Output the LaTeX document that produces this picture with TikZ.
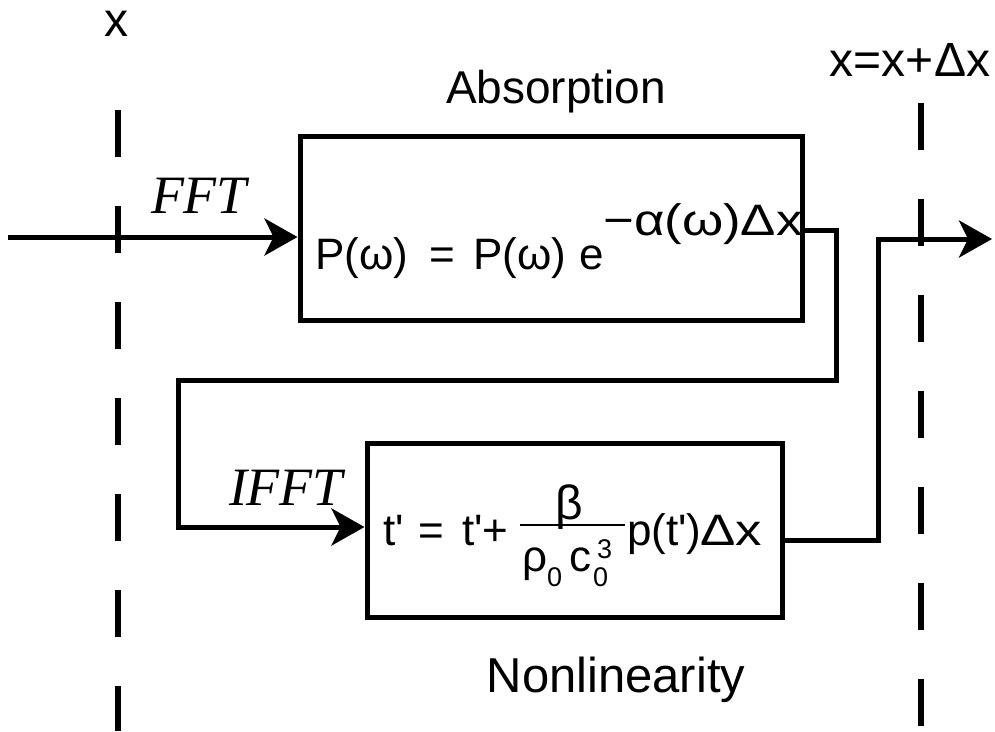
\documentclass[tikz,border=0pt]{standalone}
\usepackage{fontspec}
\setmainfont{Liberation Sans}
\newfontfamily\timesfam{Liberation Serif}
\newfontfamily\widefam[FakeStretch=1.2]{Liberation Sans}
\usetikzlibrary{arrows.meta}
\newcommand\sq{\textquotesingle}
\begin{document}
\begin{tikzpicture}[x=1pt,y=-1pt,
  box/.style={draw, line width=5pt, rectangle, inner sep=0pt},
  txt/.style={inner sep=0pt, anchor=base},
  lbl/.style={txt, font=\fontsize{46}{50}\selectfont},
  eq/.style={inner sep=0pt, anchor=base west, font=\fontsize{44}{50}\selectfont},
  weq/.style={inner sep=0pt, anchor=base west, font=\fontsize{44}{50}\selectfont\widefam},
  sub/.style={inner sep=0pt, anchor=base west, font=\fontsize{27}{30}\selectfont},
  op/.style={txt, font=\fontsize{54}{58}\selectfont\timesfam\itshape},
  conn/.style={line width=5pt},
  arr/.style={line width=5pt, -{Stealth[length=33pt,width=37pt,inset=9pt]}},
  dashv/.style={line width=6pt, dash pattern=on 47pt off 49pt}
]
\useasboundingbox (0,0) rectangle (995,731);

% dashed planes
\coordinate (d1a) at (118,110); \coordinate (d1b) at (118,731);
\coordinate (d2a) at (921,103); \coordinate (d2b) at (921,731);
\draw[dashv] (d1a) -- (d1b);
\draw[dashv] (d2a) -- (d2b);

% labels
\node[txt, font=\fontsize{48}{52}\selectfont] (lx) at (116,36) {x};
\node[txt, font=\fontsize{48}{52}\selectfont] (lxx) at (910,76) {x=x+Δx};
\node[lbl] (labs) at (556,103) {Absorption};
\node[txt, font=\fontsize{49}{53}\selectfont] (lnon) at (616,692) {Nonlinearity};
\node[op] (fft) at (199,213) {FFT};
\node[op] (ifft) at (286,505) {IFFT};

% boxes
\node[box, minimum width=502pt, minimum height=184pt] (b1) at (551,228) {};
\node[box, minimum width=415pt, minimum height=174pt] (b2) at (574.5,530) {};

% equation 1
\node[eq] (e1a) at (315,269) {P(ω)};
\node[eq] (e1b) at (429,269) {=};
\node[eq] (e1c) at (473,269) {P(ω)};
\node[eq] (e1d) at (579,269) {e};
\node[weq] (e1e) at (603,235) {−α(ω)Δx};

% equation 2
\node[eq] (e2a) at (383,545) {t\sq};
\node[eq] (e2b) at (418,545) {=};
\node[eq] (e2c) at (462,545) {t\sq+};
\node[txt, font=\fontsize{48}{52}\selectfont] (e2n) at (569,519) {β};
\coordinate (fb1) at (520,525); \coordinate (fb2) at (625,525);
\draw[line width=2.5pt] (fb1) -- (fb2);
\node[eq] (e2r) at (522,571) {ρ};
\node[sub] (e2r0) at (547,586) {0};
\node[eq] (e2cc) at (569,571) {c};
\node[sub] (e2c0) at (593,586) {0};
\node[sub] (e2c3) at (597,558) {3};
\node[eq] (e2p) at (627,545) {p(t\sq)};
\node[weq] (e2d) at (700,545) {Δx};

% connectors
\coordinate (in) at (8,237);
\draw[arr] (in) -- (in -| b1.west);

\coordinate (k1) at (836,230);
\coordinate (k2) at (836,380);
\coordinate (k3) at (178,380);
\coordinate (k4) at (178,527);
\draw[arr] (b1.east |- k1) -- (k1) -- (k2) -- (k3) -- (k4) -- (b2.west |- k4);

\coordinate (m1) at (878,540);
\coordinate (m2) at (878,239);
\coordinate (out) at (992,239);
\draw[arr] (b2.east |- m1) -- (m1) -- (m2) -- (out);
\end{tikzpicture}
\end{document}
